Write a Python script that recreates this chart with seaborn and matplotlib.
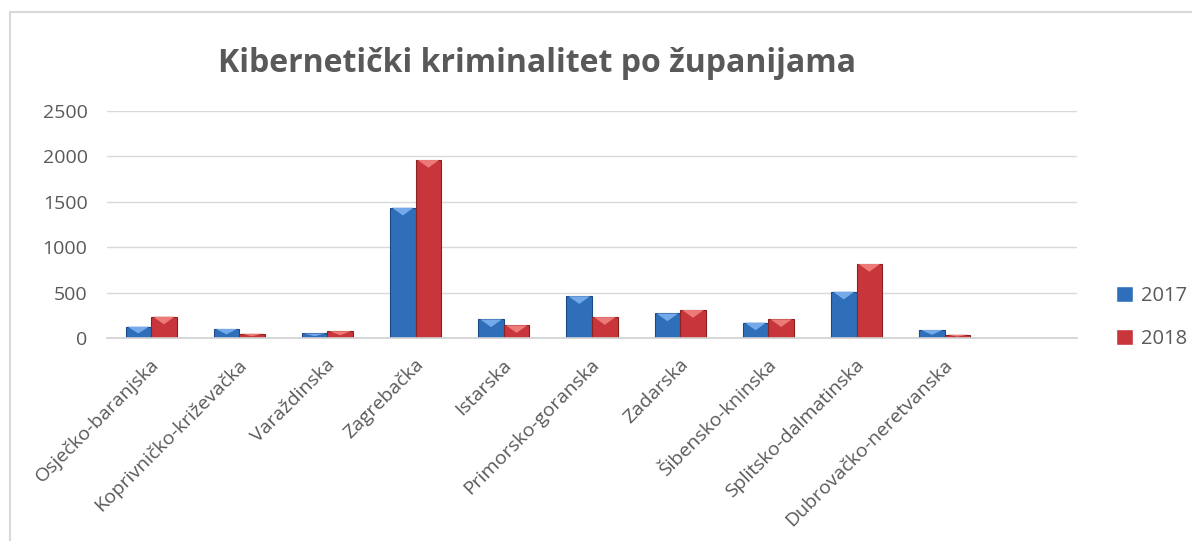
import pandas as pd
import matplotlib
matplotlib.use("Agg")
import matplotlib.pyplot as plt
import matplotlib.transforms as mtrans
from matplotlib.patches import Polygon, Rectangle
import seaborn as sns

# Podaci po županijama
zupanije = ["Osječko-baranjska", "Koprivničko-križevačka", "Varaždinska", "Zagrebačka",
            "Istarska", "Primorsko-goranska", "Zadarska", "Šibensko-kninska",
            "Splitsko-dalmatinska", "Dubrovačko-neretvanska"]
god_2017 = [125, 100, 50, 1435, 205, 460, 270, 170, 510, 88]
god_2018 = [235, 47, 75, 1960, 140, 230, 308, 206, 815, 36]
godine = ["2017", "2018"]

df = pd.DataFrame({
    "zupanija": zupanije * 2,
    "godina": [godine[0]] * len(zupanije) + [godine[1]] * len(zupanije),
    "broj": god_2017 + god_2018,
})

sns.set_theme(style="white")
plt.rcParams["font.family"] = ["Open Sans", "DejaVu Sans"]

boje = {"2017": "#2f6fba", "2018": "#c8353a"}
rubovi = {"2017": "#1d4a85", "2018": "#8a2222"}
svijetle = {"2017": "#74aaea", "2018": "#ec7a78"}

fig = plt.figure(figsize=(11.92, 5.41), dpi=100)
ax = fig.add_axes([107 / 1192, 1 - 338 / 541, 970 / 1192, 227 / 541])

sns.barplot(data=df, x="zupanija", y="broj", hue="godina", order=zupanije,
            hue_order=godine, palette=boje, saturation=1, width=0.58, ax=ax, legend=True)

# rubovi i "3D" trokut na vrhu svakog stupca
for cont, g in zip(ax.containers, godine):
    for p in cont.patches:
        p.set_edgecolor(rubovi[g])
        p.set_linewidth(0.8)
        x0, w, h = p.get_x(), p.get_width(), p.get_height()
        d = min(85, h * 0.6)
        tri = Polygon([(x0 + w * 0.08, h), (x0 + w * 0.92, h), (x0 + w / 2, h - d)],
                      closed=True, facecolor=svijetle[g], edgecolor="none", zorder=3)
        ax.add_patch(tri)

ax.set_xlim(-0.5, 10.5)
ax.set_ylim(0, 2500)
ax.set_yticks([0, 500, 1000, 1500, 2000, 2500])
ax.yaxis.grid(True, color="#d9d9d9", linewidth=1)
ax.set_axisbelow(True)
for s in ["top", "right", "left"]:
    ax.spines[s].set_visible(False)
ax.spines["bottom"].set_color("#d0d0d0")
ax.spines["bottom"].set_linewidth(1.2)
ax.set_xlabel("")
ax.set_ylabel("")
ax.tick_params(axis="y", length=0, pad=14, labelsize=14, labelcolor="#595959")
ax.tick_params(axis="x", length=0, pad=13, labelsize=14, labelcolor="#595959")
pomak = mtrans.ScaledTranslation(5 / 100, -6 / 100, fig.dpi_scale_trans)
for lab in ax.get_xticklabels():
    lab.set_rotation(45)
    lab.set_ha("right")
    lab.set_va("center")
    lab.set_rotation_mode("anchor")
    lab.set_transform(lab.get_transform() + pomak)

leg = ax.legend(loc="center left", bbox_to_anchor=(1.022, 0.09), frameon=False,
                fontsize=14.5, labelcolor="#595959", handlelength=0.8, handleheight=0.8,
                handletextpad=0.4, labelspacing=1.15)

fig.text(537 / 1192, 1 - 63 / 541, "Kibernetički kriminalitet po županijama",
         ha="center", va="center", fontsize=23, fontweight="bold", color="#595959")

# okvir grafikona
fig.patches.append(Rectangle((10 / 1192, -0.1), 1.2, 1 - 12 / 541 + 0.1, transform=fig.transFigure,
                             fill=False, edgecolor="#d9d9d9", linewidth=1.5))

fig.savefig("out.png", dpi=100)
